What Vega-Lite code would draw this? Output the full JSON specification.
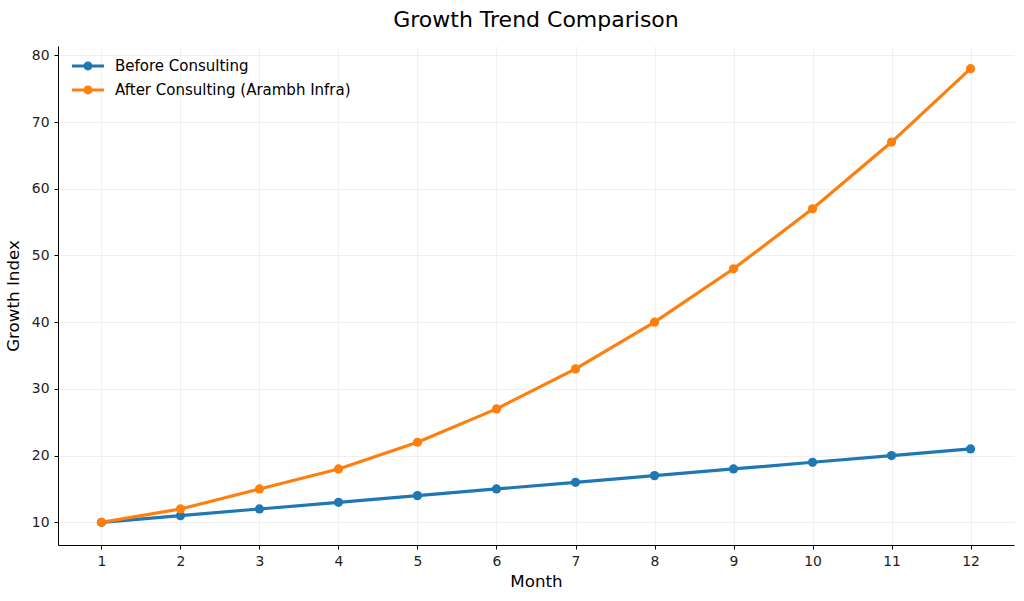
{
  "$schema": "https://vega.github.io/schema/vega-lite/v6.json",
  "width": 956,
  "height": 499,
  "autosize": {"type": "none"},
  "padding": {"left": 58, "top": 46, "right": 10, "bottom": 56},
  "background": "white",
  "title": {"text": "Growth Trend Comparison", "fontSize": 22, "font": "DejaVu Sans", "fontWeight": "normal", "color": "#000000", "anchor": "middle", "offset": 14},
  "config": {
    "view": {"stroke": null},
    "font": "DejaVu Sans",
    "axis": {
      "labelFont": "DejaVu Sans", "labelFontSize": 13.9, "labelColor": "#222222",
      "titleFont": "DejaVu Sans", "titleFontSize": 16.7, "titleFontWeight": "normal", "titleColor": "#000000",
      "domainColor": "#000000", "domainWidth": 1, "tickColor": "#000000", "tickSize": 4,
      "gridColor": "#ececec", "gridWidth": 0.8
    }
  },
  "data": {"values": [
    {"month": 1, "value": 10, "series": "Before Consulting"},
    {"month": 2, "value": 11, "series": "Before Consulting"},
    {"month": 3, "value": 12, "series": "Before Consulting"},
    {"month": 4, "value": 13, "series": "Before Consulting"},
    {"month": 5, "value": 14, "series": "Before Consulting"},
    {"month": 6, "value": 15, "series": "Before Consulting"},
    {"month": 7, "value": 16, "series": "Before Consulting"},
    {"month": 8, "value": 17, "series": "Before Consulting"},
    {"month": 9, "value": 18, "series": "Before Consulting"},
    {"month": 10, "value": 19, "series": "Before Consulting"},
    {"month": 11, "value": 20, "series": "Before Consulting"},
    {"month": 12, "value": 21, "series": "Before Consulting"},
    {"month": 1, "value": 10, "series": "After Consulting (Arambh Infra)"},
    {"month": 2, "value": 12, "series": "After Consulting (Arambh Infra)"},
    {"month": 3, "value": 15, "series": "After Consulting (Arambh Infra)"},
    {"month": 4, "value": 18, "series": "After Consulting (Arambh Infra)"},
    {"month": 5, "value": 22, "series": "After Consulting (Arambh Infra)"},
    {"month": 6, "value": 27, "series": "After Consulting (Arambh Infra)"},
    {"month": 7, "value": 33, "series": "After Consulting (Arambh Infra)"},
    {"month": 8, "value": 40, "series": "After Consulting (Arambh Infra)"},
    {"month": 9, "value": 48, "series": "After Consulting (Arambh Infra)"},
    {"month": 10, "value": 57, "series": "After Consulting (Arambh Infra)"},
    {"month": 11, "value": 67, "series": "After Consulting (Arambh Infra)"},
    {"month": 12, "value": 78, "series": "After Consulting (Arambh Infra)"}
  ]},
  "mark": {"type": "line", "strokeWidth": 3.2, "point": {"filled": true, "size": 85, "opacity": 1}},
  "encoding": {
    "x": {"field": "month", "type": "quantitative", "title": "Month",
      "scale": {"domain": [0.45, 12.55], "nice": false, "zero": false},
      "axis": {"values": [1,2,3,4,5,6,7,8,9,10,11,12], "format": "d", "labelPadding": 5, "titleY": 28}},
    "y": {"field": "value", "type": "quantitative", "title": "Growth Index",
      "scale": {"domain": [6.6, 81.4], "nice": false, "zero": false},
      "axis": {"values": [10,20,30,40,50,60,70,80], "labelPadding": 5, "titleX": -36}},
    "color": {"field": "series", "type": "nominal",
      "scale": {"domain": ["Before Consulting", "After Consulting (Arambh Infra)"], "range": ["#1f77b4", "#ff7f0e"]},
      "sort": ["Before Consulting", "After Consulting (Arambh Infra)"],
      "legend": {
        "title": null, "orient": "none", "legendX": 14, "legendY": 4,
        "symbolType": "M-1,-0.1L1,-0.1L1,0.1L-1,0.1Z M-0.28,0A0.28,0.28 0 1,1 0.28,0A0.28,0.28 0 1,1 -0.28,0Z",
        "symbolSize": 1024, "symbolStrokeWidth": 0,
        "labelFontSize": 15, "labelFont": "DejaVu Sans", "labelColor": "#000000", "labelOffset": 11, "labelLimit": 0,
        "rowPadding": -2,
        "encode": {"symbols": {"update": {"fill": {"scale": "color", "field": "value"}, "opacity": {"value": 1}}}}
      }}
  }
}
